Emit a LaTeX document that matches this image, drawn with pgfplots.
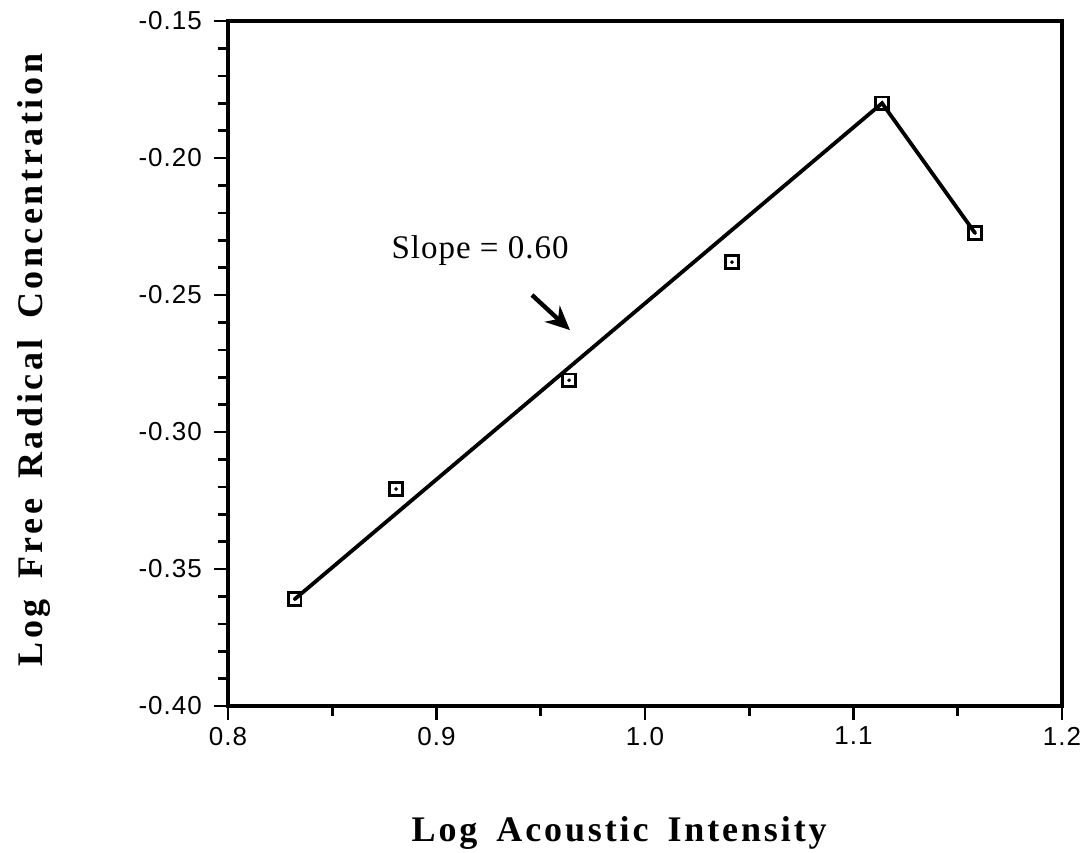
\documentclass[border=0pt]{standalone}
\usepackage{fontspec}
\setmainfont{Liberation Serif}
\newfontfamily\tickfont[LetterSpace=4]{Liberation Sans}
\newfontfamily\labfont[LetterSpace=10,WordSpace=1.6]{Liberation Serif}
\newfontfamily\xlabfont[LetterSpace=8,WordSpace=1.6]{Liberation Serif}
\newfontfamily\slopefont[LetterSpace=3]{Liberation Serif}
\usepackage{pgfplots}
\pgfplotsset{compat=1.18}
\usetikzlibrary{arrows.meta}
\begin{document}
\begin{tikzpicture}
\begin{axis}[
  width=417pt, height=342.5pt, scale only axis,
  xmin=0.8, xmax=1.2, ymin=-0.40, ymax=-0.15,
  xtick={0.8,0.9,1.0,1.1,1.2}, xticklabels={0.8,0.9,1.0,1.1,1.2},
  minor xtick={0.85,0.95,1.05,1.15},
  ytick={-0.40,-0.35,-0.30,-0.25,-0.20,-0.15},
  yticklabels={-0.40,-0.35,-0.30,-0.25,-0.20,-0.15},
  minor y tick num=4,
  tick align=outside, xtick pos=bottom, ytick pos=left,
  major tick length=7pt, minor tick length=5pt,
  axis line style={line width=1.8pt},
  tick style={line width=1.3pt, black},
  ticklabel style={font=\tickfont\fontsize{13}{13}\selectfont},
  yticklabel style={xshift=-2.5pt},
  xlabel={Log Acoustic Intensity},
  ylabel={Log Free Radical Concentration},
  xlabel style={at={(axis description cs:0.469,-0.1985)}, anchor=base, font=\xlabfont\bfseries\fontsize{18}{18}\selectfont},
  ylabel style={at={(axis description cs:-0.223,0.505)}, anchor=base, font=\labfont\bfseries\fontsize{18}{18}\selectfont},
  clip=false,
]
\addplot[black, line width=1.9pt] coordinates {(0.832,-0.361) (1.1137,-0.180) (1.1583,-0.2274)};
\addplot[only marks, mark=square, mark size=3.2pt, mark options={line width=1.3pt, black}] coordinates {
  (0.832,-0.361) (0.8806,-0.3208) (0.9636,-0.2811) (1.0417,-0.238) (1.1137,-0.180) (1.1583,-0.2274)};
\addplot[only marks, mark=*, mark size=0.7pt, black] coordinates {
  (0.832,-0.361) (0.8806,-0.3208) (0.9636,-0.2811) (1.0417,-0.238) (1.1137,-0.180) (1.1583,-0.2274)};
\draw[-{Stealth[length=12pt,width=11pt]}, line width=2.2pt] (axis cs:0.9458,-0.25) -- (axis cs:0.964,-0.2628);
\node[anchor=base, font=\slopefont\fontsize{16.5}{16.5}\selectfont] at (axis cs:0.9209,-0.2365) {Slope = 0.60};
\coordinate (sw) at (axis cs:0.8,-0.40);
\end{axis}
\pgfresetboundingbox
\path[use as bounding box] (sw) ++(-114pt,-73pt) rectangle ++(545.5pt,426pt);
\end{tikzpicture}
\end{document}
